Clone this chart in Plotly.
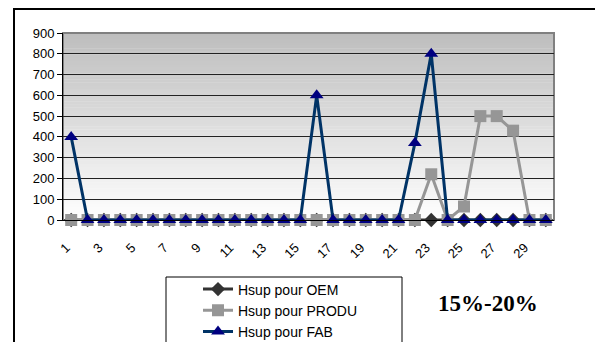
import plotly.graph_objects as go

categories = list(range(1, 31))
oem = [0] * 30
produ = [0, 0, 0, 0, 0, 0, 0, 0, 0, 0, 0, 0, 0, 0, 0, 0, 0, 0, 0, 0, 0, 0, 220, 0, 65, 500, 500, 430, 0, 0]
fab = [400, 0, 0, 0, 0, 0, 0, 0, 0, 0, 0, 0, 0, 0, 0, 600, 0, 0, 0, 0, 0, 370, 800, 0, 0, 0, 0, 0, 0, 0]
tick_labels = [str(v) for v in range(1, 31, 2)]
y_ticks = list(range(0, 1000, 100))

OFF = 8  # default body margin of the html page
W, H = 603 - OFF, 342 - OFF
L, R, T, B = 63, 554, 33, 220  # plot area in reference pixels


def px(x):
    return (x - L) / (R - L)


def py(y):
    return (B - y) / (B - T)


fig = go.Figure()
fig.add_trace(go.Scatter(x=categories, y=oem, name="Hsup pour OEM", mode="lines+markers",
                         line=dict(color="#333333", width=3),
                         marker=dict(symbol="diamond", size=11, color="#333333"),
                         cliponaxis=False))
fig.add_trace(go.Scatter(x=categories, y=produ, name="Hsup pour PRODU", mode="lines+markers",
                         line=dict(color="#969696", width=3),
                         marker=dict(symbol="square", size=12, color="#969696"),
                         cliponaxis=False))
fig.add_trace(go.Scatter(x=categories, y=fab, name="Hsup pour FAB", mode="lines+markers",
                         line=dict(color="#003366", width=3),
                         marker=dict(symbol="triangle-up", size=12, color="#000080"),
                         cliponaxis=False))

shapes = []
n = 60
for i in range(n):
    f0 = i / n
    f1 = (i + 1) / n
    c = int(255 - (255 - 190) * (f0 + f1) / 2)
    shapes.append(dict(type="rect", xref="paper", yref="paper", x0=0, x1=1, y0=f0, y1=f1 + 0.002,
                       fillcolor=f"rgb({c},{c},{c})", line=dict(width=0), layer="below"))
shapes.append(dict(type="rect", xref="paper", yref="paper", x0=0, x1=1, y0=0, y1=1,
                   line=dict(color="#808080", width=2), layer="below"))
shapes.append(dict(type="rect", xref="paper", yref="paper", x0=px(14), x1=px(600), y0=py(360), y1=py(9),
                   line=dict(color="#000000", width=2), fillcolor="rgba(0,0,0,0)"))
shapes.append(dict(type="rect", xref="paper", yref="paper", x0=px(166), x1=px(402), y0=py(360), y1=py(277),
                   line=dict(color="#000000", width=1), fillcolor="rgba(0,0,0,0)"))

fig.update_layout(
    width=W, height=H,
    margin=dict(l=L - OFF, r=603 - R, t=T - OFF, b=342 - B, autoexpand=False),
    paper_bgcolor="white",
    plot_bgcolor="white",
    font=dict(family="Liberation Sans, Arial", size=13, color="black"),
    shapes=shapes,
    showlegend=True,
    legend=dict(x=px(198), y=py(273.5), xanchor="left", yanchor="top",
                bgcolor="rgba(0,0,0,0)", borderwidth=0,
                font=dict(size=14, family="Liberation Sans, Arial"),
                tracegroupgap=0, itemsizing="trace"),
    annotations=[dict(text="<b>15%-20%</b>", x=px(488), y=py(303), xref="paper", yref="paper",
                      xanchor="center", yanchor="middle",
                      showarrow=False, font=dict(family="Liberation Serif, Times New Roman", size=23, color="black"))],
    xaxis=dict(range=[0.5, 30.5], tickmode="array", tickvals=list(range(1, 31, 2)), ticktext=tick_labels,
               tickangle=-45, showgrid=False, zeroline=False, showline=True, linecolor="black", linewidth=1,
               ticks="", tickfont=dict(size=13), automargin=False,
               ticklabelstandoff=14, ticklabelshift=-5),
    yaxis=dict(range=[0, 900], tickmode="array", tickvals=y_ticks, showgrid=True, gridcolor="#222222",
               gridwidth=1, zeroline=False, showline=True, linecolor="black", linewidth=1,
               ticks="outside", ticklen=5, tickcolor="black", tickfont=dict(size=13), automargin=False),
)

fig.write_html("out.html")
